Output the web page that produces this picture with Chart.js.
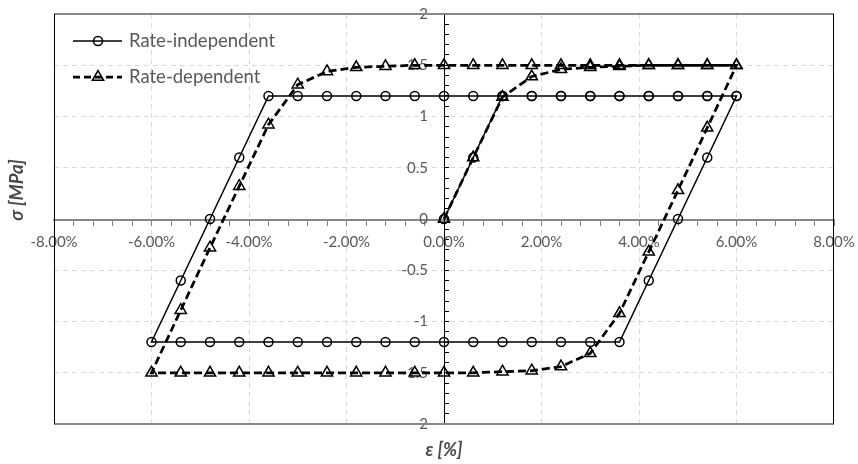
<!DOCTYPE html>
<html>
<head>
<meta charset="utf-8">
<script src="https://cdn.jsdelivr.net/npm/chart.js@4/dist/chart.umd.min.js"></script>
<style>html,body{margin:0;padding:0;background:#fff}canvas{display:block}</style>
</head>
<body>
<canvas id="c" width="858" height="464"></canvas>
<script>
// ---- data (strain in %, stress in MPa) ----
const seriesNames = ['Rate-independent', 'Rate-dependent'];

const strainRI = [0, 0.6, 1.2, 1.8, 2.4, 3.0, 3.6, 4.2, 4.8, 5.4, 6.0,
  5.4, 4.8, 4.2, 3.6,
  3.0, 2.4, 1.8, 1.2, 0.6, 0, -0.6, -1.2, -1.8, -2.4, -3.0, -3.6, -4.2, -4.8, -5.4, -6.0,
  -5.4, -4.8, -4.2, -3.6,
  -3.0, -2.4, -1.8, -1.2, -0.6, 0, 0.6, 1.2, 1.8, 2.4, 3.0, 3.6, 4.2, 4.8, 5.4, 6.0];
const stressRI = [0, 0.6, 1.2, 1.2, 1.2, 1.2, 1.2, 1.2, 1.2, 1.2, 1.2,
  0.6, 0, -0.6, -1.2,
  -1.2, -1.2, -1.2, -1.2, -1.2, -1.2, -1.2, -1.2, -1.2, -1.2, -1.2, -1.2, -1.2, -1.2, -1.2, -1.2,
  -0.6, 0, 0.6, 1.2,
  1.2, 1.2, 1.2, 1.2, 1.2, 1.2, 1.2, 1.2, 1.2, 1.2, 1.2, 1.2, 1.2, 1.2, 1.2, 1.2];

const strainRD = [0, 0.6, 1.2, 1.8, 2.4, 3.0, 3.6, 4.2, 4.8, 5.4, 6.0,
  5.4, 4.8, 4.2, 3.6,
  3.0, 2.4, 1.8, 1.2, 0.6, 0, -0.6, -1.2, -1.8, -2.4, -3.0, -3.6, -4.2, -4.8, -5.4, -6.0,
  -5.4, -4.8, -4.2, -3.6,
  -3.0, -2.4, -1.8, -1.2, -0.6, 0, 0.6, 1.2, 1.8, 2.4, 3.0, 3.6, 4.2, 4.8, 5.4, 6.0];
const stressRD = [0, 0.6, 1.19, 1.39, 1.46, 1.48, 1.49, 1.5, 1.5, 1.5, 1.5,
  0.89, 0.28, -0.32, -0.92,
  -1.31, -1.44, -1.48, -1.49, -1.5, -1.5, -1.5, -1.5, -1.5, -1.5, -1.5, -1.5, -1.5, -1.5, -1.5, -1.5,
  -0.89, -0.28, 0.32, 0.92,
  1.31, 1.44, 1.48, 1.49, 1.5, 1.5, 1.5, 1.5, 1.5, 1.5, 1.5, 1.5, 1.5, 1.5, 1.5, 1.5];

const xTickValues = [-8, -6, -4, -2, 0, 2, 4, 6, 8];
const xTickLabels = ['-8.00%', '-6.00%', '-4.00%', '-2.00%', '0.00%', '2.00%', '4.00%', '6.00%', '8.00%'];
const yTickValues = [2, 1.5, 1, 0.5, 0, -0.5, -1, -1.5, -2];
const yTickLabels = ['2', '1.5', '1', '0.5', '0', '-0.5', '-1', '-1.5', '2'];
const xTitle = 'ε [%]';
const yTitle = 'σ [MPa]';

// ---- helpers ----
const FONT = 'Lato, "Open Sans", sans-serif';
const TEXT = '#595959';
const GRID = '#d9d9d9';
function lookup(vals, labels, v) {
  const i = vals.findIndex(t => Math.abs(t - v) < 1e-6);
  return i >= 0 ? labels[i] : '';
}
function isGridValue(vals, v) {
  const i = vals.findIndex(t => Math.abs(t - v) < 1e-6);
  return i > 0 && i < vals.length - 1 && Math.abs(v) > 1e-6;
}
function noPad(scale) {
  scale.paddingTop = 0; scale.paddingBottom = 0;
  scale.paddingLeft = 0; scale.paddingRight = 0;
}

const extras = {
  id: 'extras',
  beforeDatasetsDraw(chart) {
    const {ctx, chartArea: a} = chart;
    ctx.save();
    // plot area frame
    ctx.strokeStyle = '#868686';
    ctx.lineWidth = 2;
    ctx.beginPath();
    ctx.moveTo(a.left, a.top); ctx.lineTo(a.right, a.top);
    ctx.moveTo(a.left, a.bottom); ctx.lineTo(a.right, a.bottom);
    ctx.stroke();
    ctx.strokeStyle = '#000';
    ctx.lineWidth = 1;
    ctx.beginPath();
    ctx.moveTo(a.left + 0.5, a.top); ctx.lineTo(a.left + 0.5, a.bottom);
    ctx.moveTo(a.right - 0.5, a.top); ctx.lineTo(a.right - 0.5, a.bottom);
    ctx.stroke();
    ctx.restore();
  },
  afterDraw(chart) {
    const {ctx, chartArea: a} = chart;
    ctx.save();
    // axis titles
    ctx.fillStyle = '#4a4a4a';
    ctx.font = 'italic bold 18.5px ' + FONT;
    ctx.textAlign = 'center';
    ctx.textBaseline = 'middle';
    ctx.fillText(xTitle, (a.left + a.right) / 2, a.bottom + 26);
    ctx.save();
    ctx.translate(17, a.top + 176);
    ctx.rotate(-Math.PI / 2);
    ctx.fillText(yTitle, 0, 0);
    ctx.restore();
    // legend
    const rows = [
      {y: a.top + 27, dash: [], w: 1.5, style: 'circle', r: 4.5},
      {y: a.top + 63, dash: [7, 4], w: 2.75, style: 'triangle', r: 6.5}
    ];
    const x0 = a.left + 19, x1 = a.left + 68, xm = a.left + 44;
    rows.forEach((row, i) => {
      ctx.strokeStyle = '#000';
      ctx.lineWidth = row.w;
      ctx.setLineDash(row.dash);
      ctx.beginPath();
      ctx.moveTo(x0, row.y); ctx.lineTo(x1, row.y);
      ctx.stroke();
      ctx.setLineDash([]);
      ctx.lineWidth = 1.5;
      ctx.fillStyle = 'rgba(0,0,0,0)';
      Chart.helpers.drawPoint(ctx, {pointStyle: row.style, radius: row.r, rotation: 0, borderWidth: 1.5}, xm, row.y);
      ctx.fillStyle = TEXT;
      ctx.font = '18.5px ' + FONT;
      ctx.textAlign = 'left';
      ctx.textBaseline = 'middle';
      ctx.fillText(seriesNames[i], a.left + 75, row.y);
    });
    ctx.restore();
  }
};

const toPts = (xs, ys) => xs.map((x, i) => ({x: x, y: ys[i]}));

new Chart(document.getElementById('c'), {
  type: 'scatter',
  data: {
    datasets: [
      {
        label: seriesNames[0],
        data: toPts(strainRI, stressRI),
        showLine: true,
        borderColor: '#000',
        borderWidth: 1.5,
        pointStyle: 'circle',
        pointRadius: 4.5,
        pointHoverRadius: 4.5,
        pointBorderWidth: 1.5,
        pointBorderColor: '#000',
        pointBackgroundColor: 'rgba(0,0,0,0)',
        tension: 0
      },
      {
        label: seriesNames[1],
        data: toPts(strainRD, stressRD),
        showLine: true,
        borderColor: '#000',
        borderWidth: 2.75,
        borderDash: [8, 4],
        pointStyle: 'triangle',
        pointRadius: 6.5,
        pointHoverRadius: 6.5,
        pointBorderWidth: 1.5,
        pointBorderColor: '#000',
        pointBackgroundColor: 'rgba(0,0,0,0)',
        tension: 0
      }
    ]
  },
  options: {
    responsive: false,
    animation: false,
    events: [],
    layout: {padding: {left: 54, top: 14, right: 24, bottom: 40}},
    plugins: {legend: {display: false}, tooltip: {enabled: false}},
    scales: {
      x: {
        type: 'linear',
        min: -8, max: 8,
        position: 'center',
        afterFit: noPad,
        ticks: {
          stepSize: 0.4, maxTicksLimit: 100, autoSkip: false, maxRotation: 0, minRotation: 0,
          color: TEXT, font: {family: FONT, size: 15}, padding: 9,
          callback: v => lookup(xTickValues, xTickLabels, v)
        },
        grid: {
          color: c => (c.tick && isGridValue(xTickValues, c.tick.value)) ? GRID : 'rgba(0,0,0,0)',
          lineWidth: 1, drawTicks: true, tickLength: 5, tickColor: '#808080', tickWidth: 1
        },
        border: {color: '#868686', width: 2, dash: [5, 4]}
      },
      y: {
        type: 'linear',
        min: -2, max: 2,
        position: 'center',
        afterFit: noPad,
        ticks: {
          stepSize: 0.1, maxTicksLimit: 100, autoSkip: false,
          color: TEXT, font: {family: FONT, size: 15}, padding: 21,
          callback: v => lookup(yTickValues, yTickLabels, v)
        },
        grid: {
          color: c => (c.tick && isGridValue(yTickValues, c.tick.value)) ? GRID : 'rgba(0,0,0,0)',
          lineWidth: 1, drawTicks: true, tickLength: -5, tickColor: '#000', tickWidth: 1
        },
        border: {color: '#000', width: 1, dash: [5, 4]}
      }
    }
  },
  plugins: [extras]
});
</script>
</body>
</html>
